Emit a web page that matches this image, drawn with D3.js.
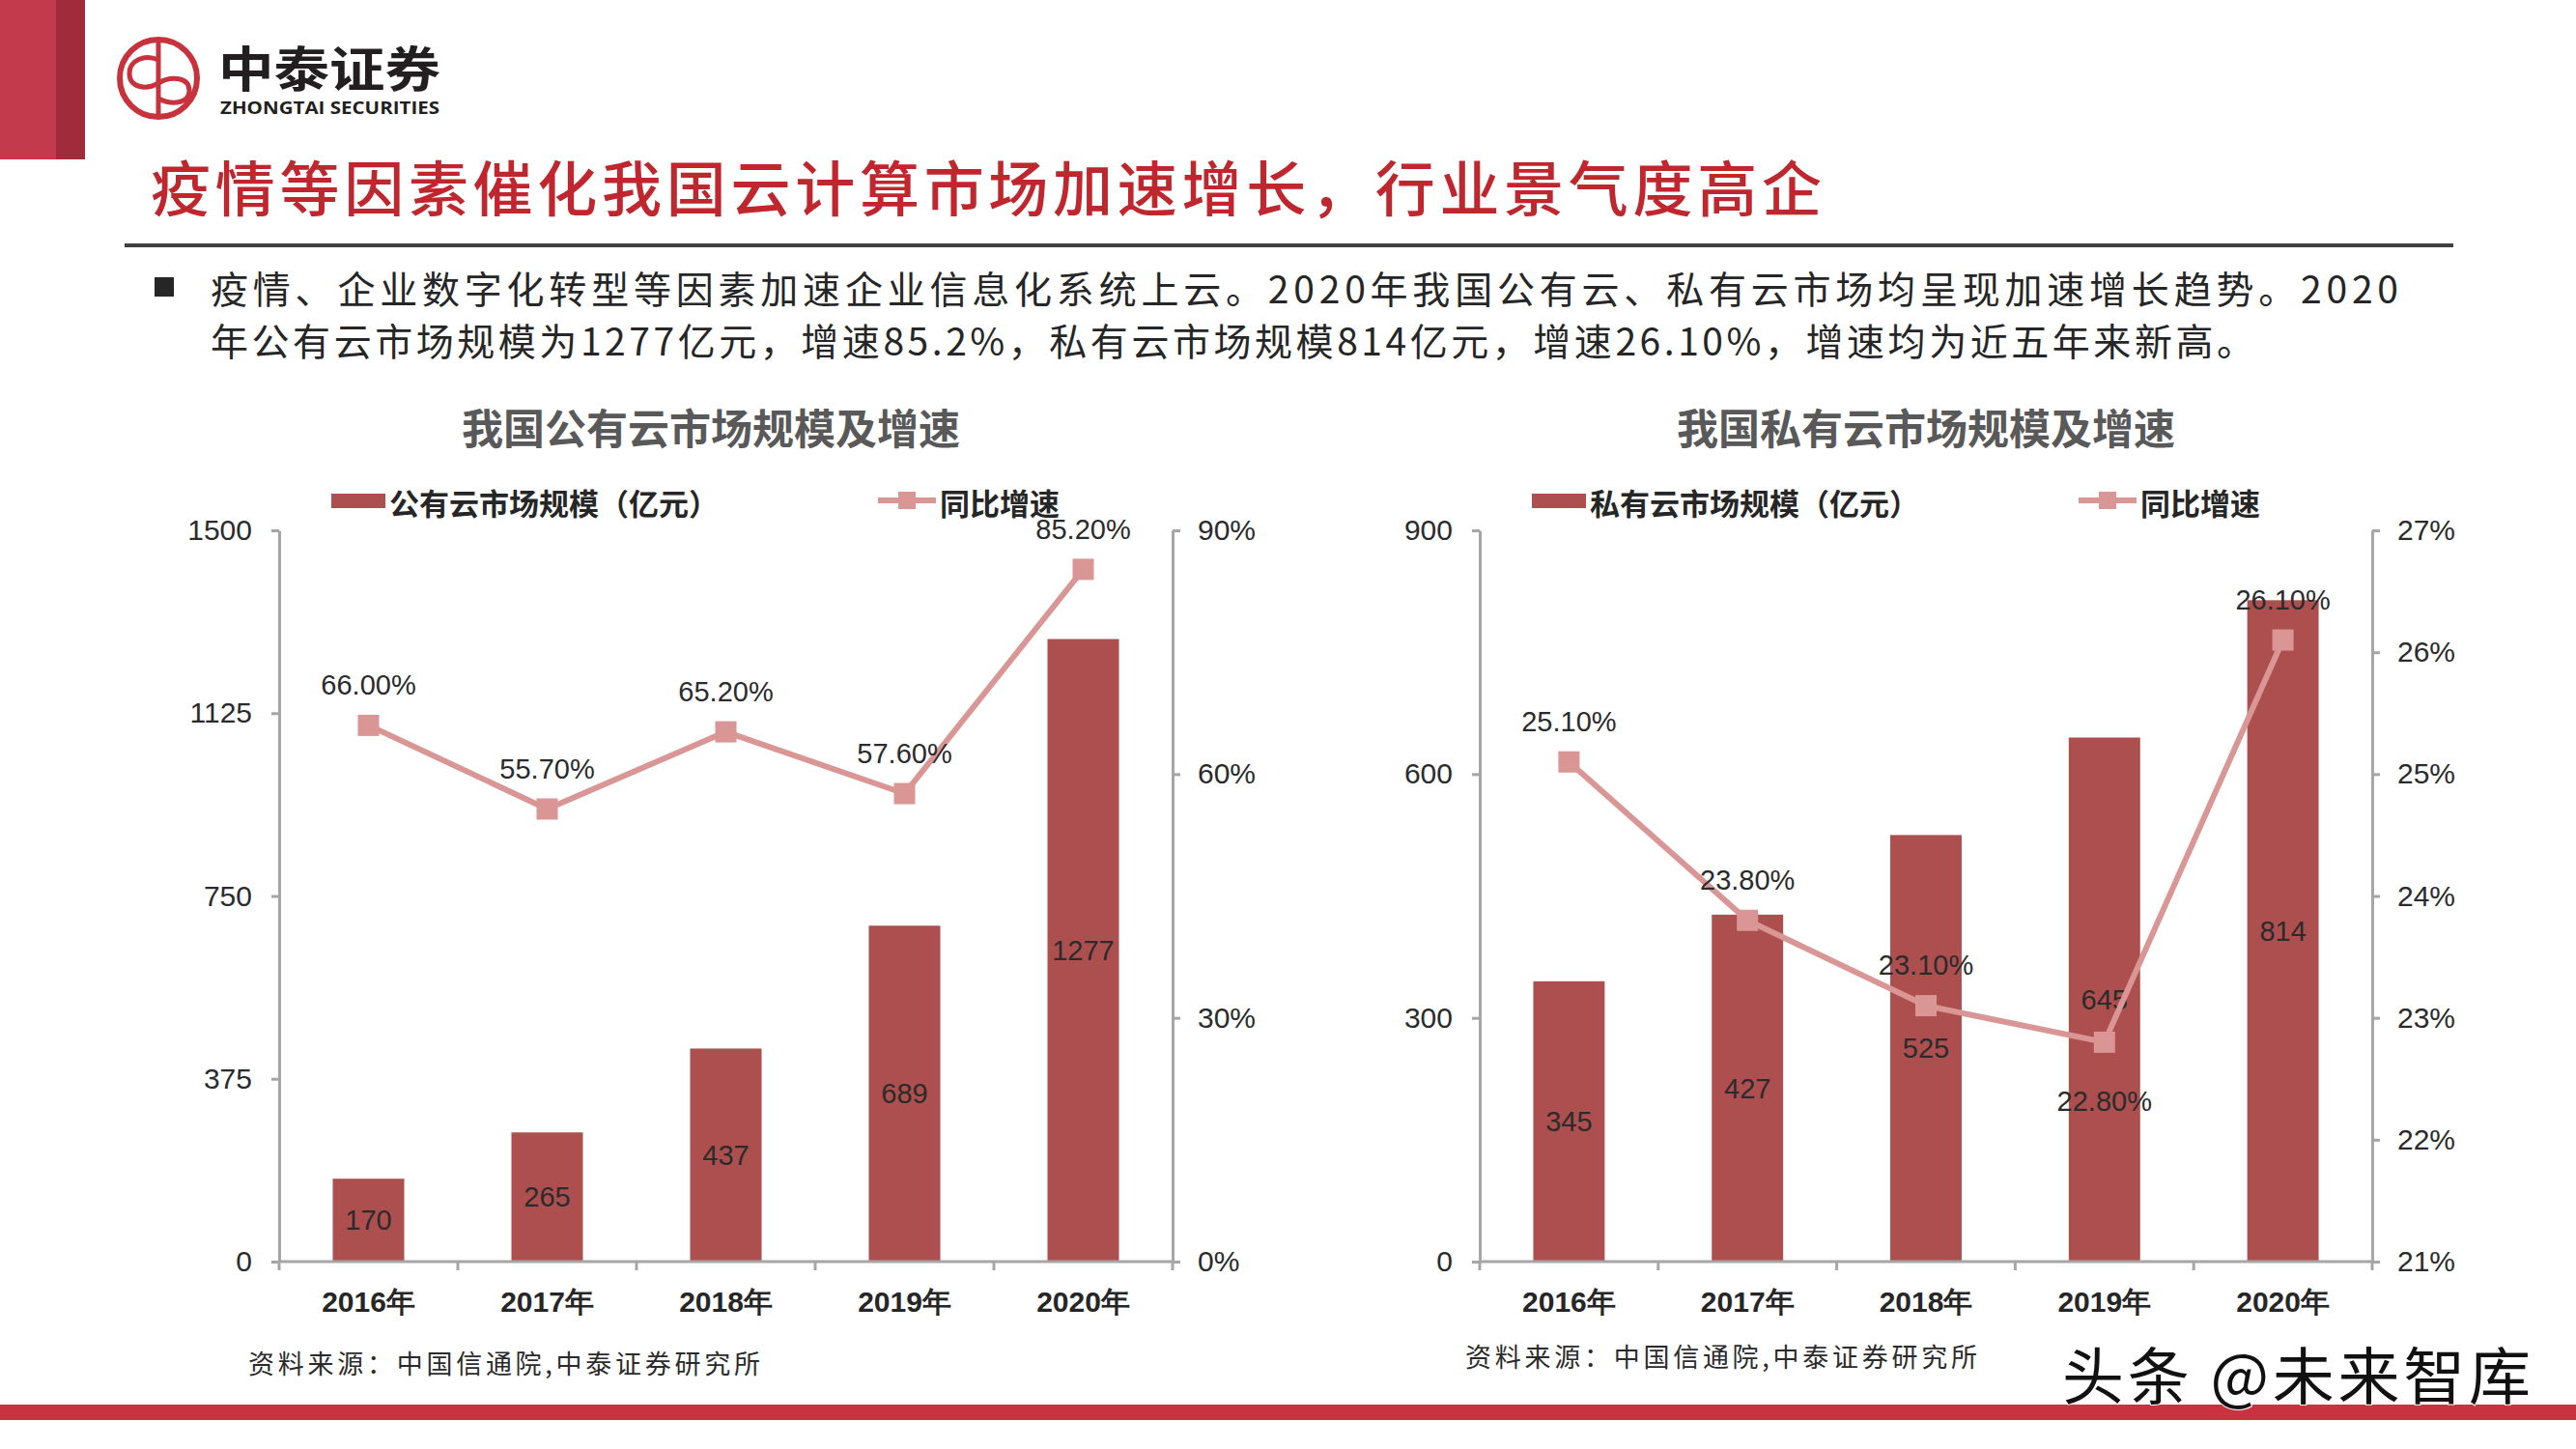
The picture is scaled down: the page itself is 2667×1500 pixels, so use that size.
<!DOCTYPE html>
<html><head><meta charset="utf-8">
<script src="https://cdn.jsdelivr.net/npm/d3@7"></script>
<style>
body{margin:0;background:#fff;}
svg{display:block;}
</style></head><body>
<svg id="c" width="2667" height="1500"></svg>
<script>
// ---------- data ----------
const years = ["2016年","2017年","2018年","2019年","2020年"];
const publicSize = [170, 265, 437, 689, 1277];
const publicGrowth = [66.0, 55.7, 65.2, 57.6, 85.2];
const publicGrowthText = ["66.00%","55.70%","65.20%","57.60%","85.20%"];
const privateSize = [345, 427, 525, 645, 814];
const privateGrowth = [25.1, 23.8, 23.1, 22.8, 26.1];
const privateGrowthText = ["25.10%","23.80%","23.10%","22.80%","26.10%"];
const publicLeftTicks = [0, 375, 750, 1125, 1500];
const publicRightTicks = [0, 30, 60, 90];
const privateLeftTicks = [0, 300, 600, 900];
const privateRightTicks = [21, 22, 23, 24, 25, 26, 27];
const publicLabelSide = ["above","above","above","above","above"];
const privateLabelSide = ["above","above","above","below","above"];
const mainTitle = "疫情等因素催化我国云计算市场加速增长，行业景气度高企";
const bodyLines = [
  "疫情、企业数字化转型等因素加速企业信息化系统上云。2020年我国公有云、私有云市场均呈现加速增长趋势。2020",
  "年公有云市场规模为1277亿元，增速85.2%，私有云市场规模814亿元，增速26.10%，增速均为近五年来新高。"
];
const sourceText = "资料来源：中国信通院,中泰证券研究所";

// ---------- style ----------
const CJK = "'Noto Sans CJK SC','Noto Sans CJK JP',sans-serif";
const NUM = "'Liberation Sans',Arial,sans-serif";
const BAR = "#ad4f4f", LINE = "#d99694", AXIS = "#a6a6a6", TXT = "#2b2b2b";
const Y_TOP = 549, Y_BOT = 1306;

const svg = d3.select("#c");
svg.append("rect").attr("width", 2667).attr("height", 1500).attr("fill", "#fff");

// ---------- header ----------
svg.append("rect").attr("x", 0).attr("y", 0).attr("width", 58).attr("height", 165).attr("fill", "#c43a4d");
svg.append("rect").attr("x", 58).attr("y", 0).attr("width", 30).attr("height", 165).attr("fill", "#a02b3a");

const logo = svg.append("g").attr("fill", "none").attr("stroke", "#c8323c");
logo.append("circle").attr("cx", 164).attr("cy", 81).attr("r", 40).attr("stroke-width", 6);
logo.append("line").attr("x1", 164).attr("x2", 164).attr("y1", 42).attr("y2", 120).attr("stroke-width", 5);
logo.append("path").attr("stroke-width", 5)
  .attr("d", "M164,62 C150,56 134,62 134,76 C134,90 150,94 164,86 C178,78 196,80 196,94 C196,106 180,110 164,102");
svg.append("text").attr("x", 226).attr("y", 68).attr("dominant-baseline", "central")
  .attr("font-family", CJK).attr("font-weight", 700).attr("font-size", 50).attr("fill", "#231f20")
  .attr("textLength", 230).attr("lengthAdjust", "spacingAndGlyphs").text("中泰证券");
svg.append("text").attr("x", 228).attr("y", 111).attr("dominant-baseline", "central")
  .attr("font-family", "'Open Sans','Liberation Sans',sans-serif").attr("font-weight", 700).attr("font-size", 17).attr("fill", "#231f20")
  .attr("textLength", 227).attr("lengthAdjust", "spacingAndGlyphs").text("ZHONGTAI SECURITIES");

svg.append("text").attr("x", 156).attr("y", 192).attr("dominant-baseline", "central")
  .attr("font-family", CJK).attr("font-weight", 500).attr("font-size", 62).attr("fill", "#c0262d")
  .attr("textLength", 1730).attr("lengthAdjust", "spacing").text(mainTitle);

svg.append("rect").attr("x", 129).attr("y", 252).attr("width", 2411).attr("height", 4).attr("fill", "#404040");

svg.append("rect").attr("x", 160).attr("y", 287).attr("width", 20).attr("height", 20).attr("fill", "#262626");
const bodyWidths = [2265, 2116];
const bodyY = [297, 351];
bodyLines.forEach((t, i) => {
  svg.append("text").attr("x", 218).attr("y", bodyY[i]).attr("dominant-baseline", "central")
    .attr("font-family", CJK).attr("font-weight", 400).attr("font-size", 39).attr("fill", "#262626")
    .attr("textLength", bodyWidths[i]).attr("lengthAdjust", "spacing").text(t);
});

// ---------- charts ----------
function drawChart(o) {
  const g = svg.append("g");
  const x = d3.scaleBand().domain(years).range([o.x0, o.x1]).paddingInner(0.6).paddingOuter(0.3);
  const bw = x.bandwidth();
  const yL = d3.scaleLinear().domain([o.leftTicks[0], o.leftTicks[o.leftTicks.length - 1]]).range([Y_BOT, Y_TOP]);
  const yR = d3.scaleLinear().domain([o.rightTicks[0], o.rightTicks[o.rightTicks.length - 1]]).range([Y_BOT, Y_TOP]);

  // title
  g.append("text").attr("x", o.titleX).attr("y", 441).attr("text-anchor", "middle").attr("dominant-baseline", "central")
    .attr("font-family", CJK).attr("font-weight", 700).attr("font-size", 43).attr("fill", "#595959").text(o.title);

  // legend
  const lg = g.append("g").attr("transform", `translate(${o.x0},0)`);
  lg.append("rect").attr("x", 54).attr("y", 511).attr("width", 56).attr("height", 15).attr("fill", BAR);
  lg.append("text").attr("x", 114).attr("y", 519).attr("dominant-baseline", "central")
    .attr("font-family", CJK).attr("font-weight", 700).attr("font-size", 31).attr("fill", "#262626").text(o.legendBar);
  lg.append("line").attr("x1", 620).attr("x2", 680).attr("y1", 518).attr("y2", 518).attr("stroke", LINE).attr("stroke-width", 6);
  lg.append("rect").attr("x", 641).attr("y", 509).attr("width", 18).attr("height", 18).attr("fill", LINE);
  lg.append("text").attr("x", 684).attr("y", 519).attr("dominant-baseline", "central")
    .attr("font-family", CJK).attr("font-weight", 700).attr("font-size", 31).attr("fill", "#262626").text("同比增速");

  // bars
  g.append("g").selectAll("rect").data(o.sizes).join("rect")
    .attr("x", (d, i) => x(years[i])).attr("y", d => yL(d))
    .attr("width", bw).attr("height", d => yL(0) - yL(d)).attr("fill", BAR);

  // axes
  const styleAxis = (a) => {
    a.select(".domain").attr("stroke", AXIS).attr("stroke-width", 3);
    a.selectAll(".tick line").attr("stroke", AXIS).attr("stroke-width", 3);
    a.selectAll(".tick text").attr("font-family", NUM).attr("font-size", 30).attr("fill", TXT);
  };
  const aL = g.append("g").attr("transform", `translate(${o.x0},0)`)
    .call(d3.axisLeft(yL).tickValues(o.leftTicks).tickSize(8).tickSizeOuter(0).tickPadding(20).tickFormat(d3.format("d")));
  styleAxis(aL);
  const aR = g.append("g").attr("transform", `translate(${o.x1},0)`)
    .call(d3.axisRight(yR).tickValues(o.rightTicks).tickSize(8).tickSizeOuter(0).tickPadding(18).tickFormat(d => d + "%"));
  styleAxis(aR);

  // x axis: labels via axis, line + boundary ticks from band scale
  const aX = g.append("g").attr("transform", `translate(0,${Y_BOT})`)
    .call(d3.axisBottom(x).tickSize(0).tickPadding(31));
  aX.select(".domain").remove();
  aX.selectAll(".tick text").attr("font-family", NUM).attr("font-weight", 700).attr("font-size", 30).attr("fill", "#262626");
  const gap = (x.step() - bw) / 2;
  const bounds = years.map(yv => x(yv) - gap).concat([x(years[years.length - 1]) + bw + gap]);
  g.append("line").attr("x1", o.x0).attr("x2", o.x1).attr("y1", Y_BOT).attr("y2", Y_BOT).attr("stroke", AXIS).attr("stroke-width", 3);
  g.append("g").selectAll("line").data(bounds).join("line")
    .attr("x1", d => d).attr("x2", d => d).attr("y1", Y_BOT).attr("y2", Y_BOT + 9)
    .attr("stroke", AXIS).attr("stroke-width", 3);

  // bar value labels
  g.append("g").selectAll("text").data(o.sizes).join("text")
    .attr("x", (d, i) => x(years[i]) + bw / 2).attr("y", d => (yL(d) + yL(0)) / 2).attr("dy", "0.35em")
    .attr("text-anchor", "middle").attr("font-family", NUM).attr("font-size", 29).attr("fill", TXT)
    .text(d => d);

  // growth line
  const pts = o.growth.map((v, i) => [x(years[i]) + bw / 2, yR(v)]);
  g.append("path").datum(pts).attr("d", d3.line()).attr("fill", "none")
    .attr("stroke", LINE).attr("stroke-width", 6).attr("stroke-linejoin", "round");
  g.append("g").selectAll("rect").data(pts).join("rect")
    .attr("x", d => d[0] - 11).attr("y", d => d[1] - 11).attr("width", 22).attr("height", 22).attr("fill", LINE);
  g.append("g").selectAll("text").data(pts).join("text")
    .attr("x", d => d[0]).attr("y", (d, i) => o.labelSide[i] === "below" ? d[1] + 61 : d[1] - 42).attr("dy", "0.35em")
    .attr("text-anchor", "middle").attr("font-family", NUM).attr("font-size", 29).attr("fill", TXT)
    .text((d, i) => o.growthText[i]);

  // source
  g.append("text").attr("x", o.srcX).attr("y", o.srcY).attr("dominant-baseline", "central")
    .attr("font-family", CJK).attr("font-size", 27).attr("fill", TXT)
    .attr("textLength", 530).attr("lengthAdjust", "spacing").text(sourceText);
}

drawChart({
  x0: 289, x1: 1214, titleX: 736, title: "我国公有云市场规模及增速", legendBar: "公有云市场规模（亿元）",
  sizes: publicSize, growth: publicGrowth, growthText: publicGrowthText, labelSide: publicLabelSide,
  leftTicks: publicLeftTicks, rightTicks: publicRightTicks, srcX: 257, srcY: 1410
});
drawChart({
  x0: 1532, x1: 2456, titleX: 1994, title: "我国私有云市场规模及增速", legendBar: "私有云市场规模（亿元）",
  sizes: privateSize, growth: privateGrowth, growthText: privateGrowthText, labelSide: privateLabelSide,
  leftTicks: privateLeftTicks, rightTicks: privateRightTicks, srcX: 1517, srcY: 1403
});

// ---------- footer ----------
svg.append("rect").attr("x", 0).attr("y", 1454).attr("width", 2667).attr("height", 16).attr("fill", "#c9333f");
svg.append("text").attr("x", 2135).attr("y", 1420).attr("dominant-baseline", "central")
  .attr("font-family", CJK).attr("font-size", 64).attr("fill", "#111")
  .attr("stroke", "#fff").attr("stroke-width", 2).attr("paint-order", "stroke")
  .attr("textLength", 485).attr("lengthAdjust", "spacing").text("头条 @未来智库");
</script>
</body></html>
